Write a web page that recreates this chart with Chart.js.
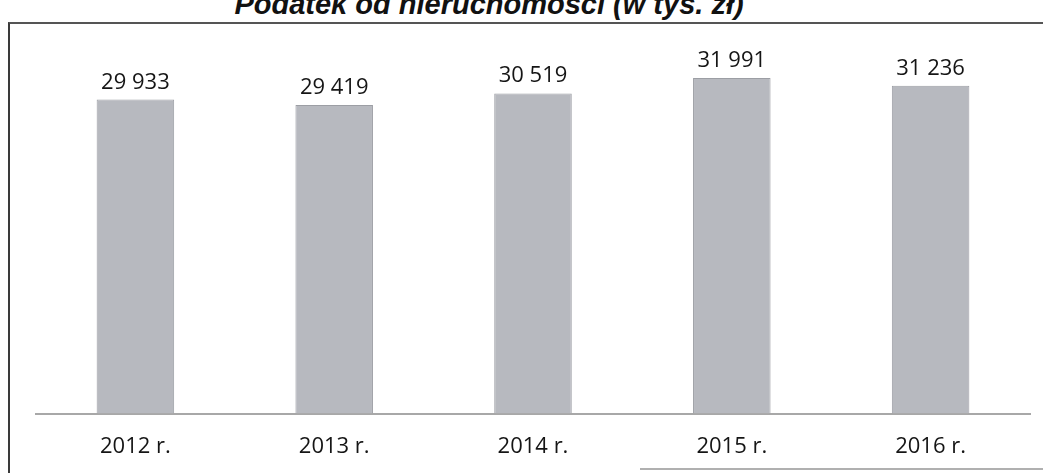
<!DOCTYPE html>
<html>
<head>
<meta charset="utf-8">
<script src="https://cdn.jsdelivr.net/npm/chart.js@4/dist/chart.umd.min.js"></script>
<style>
  html, body { margin: 0; padding: 0; background: #fff; overflow: hidden; }
  #wrap { position: relative; width: 1043px; height: 473px; overflow: hidden; }
  #frame { position: absolute; left: 8px; top: 22px; width: 1100px; height: 500px;
           border-left: 2px solid #3a3a3a; border-top: 2px solid #555; }
  #bottomLine { position: absolute; left: 640px; top: 468px; width: 420px; height: 0;
                border-top: 2px solid #b0b0b0; }
  #title { position: absolute; left: 0; top: -10px; width: 978px; text-align: center;
           font: italic bold 29px "Liberation Sans", Arial, sans-serif; color: #111; line-height: 29px; }
  canvas { position: absolute; left: 0; top: 0; }
</style>
</head>
<body>
<div id="wrap">
  <div id="title">Podatek od nieruchomości (w tys. zł)</div>
  <div id="frame"></div>
  <div id="bottomLine"></div>
  <canvas id="taxChart" width="1043" height="486"></canvas>
</div>
<script>
// Dane - podatek od nieruchomości w tys. zł
var years = ['2012 r.', '2013 r.', '2014 r.', '2015 r.', '2016 r.'];
var taxValues = [29933, 29419, 30519, 31991, 31236];
var valueLabels = ['29 933', '29 419', '30 519', '31 991', '31 236'];

// etykiety wartości nad słupkami
var valueLabelPlugin = {
    id: 'valueLabels',
    afterDatasetsDraw: function (chart) {
        var ctx = chart.ctx;
        var meta = chart.getDatasetMeta(0);
        ctx.save();
        ctx.font = '22px "Open Sans", sans-serif';
        ctx.fillStyle = '#151515';
        ctx.textAlign = 'center';
        ctx.textBaseline = 'alphabetic';
        meta.data.forEach(function (bar, i) {
            ctx.fillText(valueLabels[i], bar.x, bar.y - 11);
        });
        ctx.restore();
    }
};

var ctx = document.getElementById('taxChart').getContext('2d');
var taxChart = new Chart(ctx, {
    type: 'bar',
    data: {
        labels: years,
        datasets: [{
            label: 'Podatek od nieruchomości',
            data: taxValues,
            backgroundColor: '#b7b9bf',
            borderColor: '#9c9ea4',
            borderWidth: 1,
            barPercentage: 0.39,
            categoryPercentage: 1.0
        }]
    },
    options: {
        responsive: false,
        animation: false,
        layout: {
            padding: { left: 36, right: 13, top: 60, bottom: 6 }
        },
        plugins: {
            legend: { display: false },
            tooltip: { enabled: false }
        },
        scales: {
            y: {
                display: false,
                min: 0,
                max: 33700
            },
            x: {
                grid: { display: false, drawTicks: false },
                border: { color: '#a8a8a8', width: 2 },
                ticks: {
                    color: '#151515',
                    padding: 20,
                    font: { family: '"Open Sans", sans-serif', size: 22 }
                }
            }
        }
    },
    plugins: [valueLabelPlugin]
});
</script>
</body>
</html>
